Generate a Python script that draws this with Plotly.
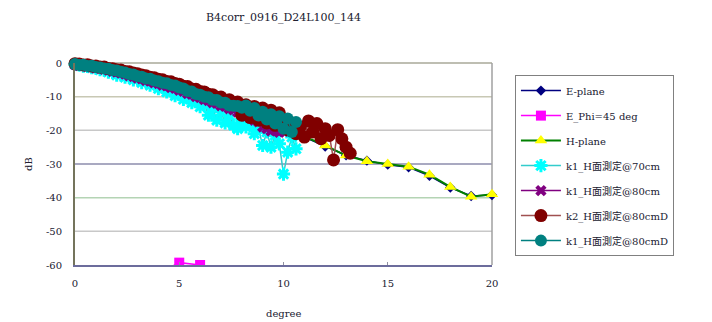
import plotly.graph_objects as go

TITLE = "B4corr_0916_D24L100_144"
X_TITLE = "degree"
Y_TITLE = "dB"

# sample angles (deg) used by the dense measurement series
ANGLES_FINE = [0.0, 0.2, 0.4, 0.6, 0.8, 1.0, 1.2, 1.4, 1.6, 1.8,
               2.0, 2.2, 2.4, 2.6, 2.8, 3.0, 3.2, 3.4, 3.6, 3.8,
               4.0, 4.2, 4.4, 4.6, 4.8, 5.0, 5.2, 5.4, 5.6, 5.8,
               6.0, 6.2, 6.4, 6.6, 6.8, 7.0, 7.2, 7.4, 7.6, 7.8,
               8.0, 8.2, 8.4, 8.6, 8.8, 9.0, 9.2, 9.4, 9.6, 9.8,
               10.0, 10.2, 10.4, 10.6, 10.8, 11.0, 11.2, 11.4, 11.6, 11.8,
               12.0, 12.2, 12.4, 12.6, 12.8, 13.0, 13.2]

ANGLES_INT = [0, 1, 2, 3, 4, 5, 6, 7, 8, 9, 10,
              11, 12, 13, 14, 15, 16, 17, 18, 19, 20]

E_PLANE = [0.0, -0.9, -2.1, -3.6, -5.4, -7.4, -9.6, -11.8, -14.2, -16.8, -19.3,
           -22.0, -24.8, -27.4, -29.0, -30.2, -31.0, -33.5, -37.0, -39.5, -39.2]

H_PLANE = [0.0, -0.8, -2.0, -3.5, -5.2, -7.2, -9.3, -11.5, -13.8, -16.5, -19.0,
           -21.8, -24.5, -27.5, -29.2, -30.0, -30.8, -33.2, -36.8, -39.7, -39.0]

E_PHI45_X = [2, 3, 4, 5, 6, 7, 8, 9]
E_PHI45 = [-75.0, -68.0, -62.5, -59.3, -60.0, -62.5, -68.0, -75.0]

K1_70CM = [-0.4, -0.6, -0.9, -1.0, -1.4, -1.5, -2.0, -2.1, -2.7, -2.8,
           -3.6, -3.5, -4.2, -4.1, -5.0, -4.8, -5.8, -5.5, -6.6, -6.3,
           -7.6, -7.2, -8.6, -8.3, -9.7, -9.2, -10.8, -10.2, -11.8, -11.0,
           -13.0, -12.0, -15.5, -13.2, -17.0, -14.5, -17.8, -15.5, -18.5, -19.5,
           -16.8, -19.0, -18.0, -21.0, -19.5, -24.5, -20.5, -25.0, -21.5, -24.0,
           -33.0, -26.5, -22.0, -25.5]

K1_80CM = [-0.5, -0.8, -0.8, -1.1, -1.2, -1.5, -1.6, -1.9, -2.1, -2.5,
           -2.7, -3.0, -3.3, -3.8, -4.0, -4.5, -4.7, -5.2, -5.4, -5.9,
           -6.1, -6.6, -6.8, -7.3, -7.5, -8.1, -8.4, -9.1, -9.3, -10.0,
           -10.3, -10.9, -11.2, -11.8, -12.0, -12.7, -12.9, -13.6, -13.9, -14.6,
           -15.0, -15.8, -16.2, -17.0, -17.5, -19.0, -19.5, -20.2, -20.0, -20.6,
           -20.3]

K2_80CMD = [-0.2, -0.3, -0.6, -0.5, -0.9, -0.9, -1.2, -1.2, -1.6, -1.7,
            -2.0, -2.1, -2.5, -2.6, -3.0, -3.2, -3.6, -3.8, -4.2, -4.4,
            -4.8, -5.0, -5.5, -5.6, -6.1, -6.3, -6.9, -7.0, -7.7, -7.8,
            -8.5, -8.6, -9.3, -9.4, -10.2, -10.1, -11.2, -10.9, -12.2, -11.6,
            -15.5, -12.4, -16.2, -12.9, -17.0, -13.4, -17.8, -14.0, -18.5, -14.8,
            -17.5, -19.8, -18.0, -21.0, -19.0, -22.0, -17.2, -20.5, -18.0, -22.5,
            -19.5, -21.5, -28.8, -19.8, -22.5, -25.0, -26.8]

K1_80CMD = [-0.3, -0.6, -0.5, -0.9, -0.8, -1.2, -1.3, -1.6, -1.7, -2.1,
            -2.2, -2.6, -2.8, -3.3, -3.4, -3.9, -4.1, -4.6, -4.7, -5.2,
            -5.4, -5.9, -6.0, -6.5, -6.7, -7.3, -7.6, -8.3, -8.5, -9.2,
            -9.4, -10.0, -10.2, -10.9, -11.0, -11.7, -11.8, -12.6, -12.7, -12.8,
            -13.3, -12.6, -14.2, -13.4, -15.6, -14.5, -16.8, -15.2, -18.0, -15.8,
            -19.5, -16.5, -20.5, -17.5]

X_TICKS = [0, 5, 10, 15, 20]
Y_TICKS = [0, -10, -20, -30, -40, -50, -60]
Y_GRID = [-10, -20, -30, -40, -50]
GRID_COLORS = ["#c8c8b4", "#c8c8c8", "#8c8cac", "#b4d4b4", "#c8c8c8"]

SERIF = "DejaVu Serif, Noto Sans CJK JP, serif"
TXT = "#202030"

fig = go.Figure()

fig.add_trace(go.Scatter(
    x=ANGLES_INT, y=E_PLANE, name="E-plane", mode="lines+markers",
    line=dict(color="#000080", width=1.5),
    marker=dict(symbol="diamond", size=8, color="#000080"),
    cliponaxis=False))

fig.add_trace(go.Scatter(
    x=E_PHI45_X, y=E_PHI45, name="E_Phi=45 deg", mode="lines+markers",
    line=dict(color="#ff00ff", width=1.5),
    marker=dict(symbol="square", size=10, color="#ff00ff")))

fig.add_trace(go.Scatter(
    x=ANGLES_INT, y=H_PLANE, name="H-plane", mode="lines+markers",
    line=dict(color="#008000", width=2),
    marker=dict(symbol="triangle-up", size=11, color="#ffff00"),
    cliponaxis=False))

fig.add_trace(go.Scatter(
    x=ANGLES_FINE[:len(K1_70CM)], y=K1_70CM, name="k1_H面測定@70cm",
    mode="lines+markers",
    line=dict(color="#33cccc", width=1.5),
    marker=dict(symbol="asterisk-open", size=11, color="#00ffff",
                line=dict(color="#00ffff", width=3)),
    cliponaxis=False))

fig.add_trace(go.Scatter(
    x=ANGLES_FINE[:len(K1_80CM)], y=K1_80CM, name="k1_H面測定@80cm",
    mode="lines+markers",
    line=dict(color="#800080", width=1.5),
    marker=dict(symbol="x", size=10, color="#800080"),
    cliponaxis=False))

fig.add_trace(go.Scatter(
    x=ANGLES_FINE[:len(K2_80CMD)], y=K2_80CMD, name="k2_H面測定@80cmD",
    mode="lines+markers",
    line=dict(color="#a05050", width=1.5),
    marker=dict(symbol="circle", size=13, color="#800000"),
    cliponaxis=False))

fig.add_trace(go.Scatter(
    x=ANGLES_FINE[:len(K1_80CMD)], y=K1_80CMD, name="k1_H面測定@80cmD",
    mode="lines+markers",
    line=dict(color="#008080", width=1.5),
    marker=dict(symbol="circle", size=12, color="#008080"),
    cliponaxis=False))

shapes = []
for yv, col in zip(Y_GRID, GRID_COLORS):
    shapes.append(dict(type="line", xref="x domain", yref="y", x0=0, x1=1,
                       y0=yv, y1=yv, line=dict(color=col, width=1.5),
                       layer="below"))
shapes.append(dict(type="line", xref="x domain", yref="y domain", x0=0, x1=1,
                   y0=1, y1=1, line=dict(color="#a8a898", width=1.5), layer="below"))
shapes.append(dict(type="line", xref="x domain", yref="y domain", x0=1, x1=1,
                   y0=0, y1=1, line=dict(color="#a0a0a0", width=1.5), layer="below"))

annotations = [
    dict(text=TITLE, xref="paper", yref="paper", x=0.5, y=1.0, yshift=46,
         xanchor="center", yanchor="middle", showarrow=False,
         font=dict(family=SERIF, size=11, color=TXT)),
    dict(text=X_TITLE, xref="paper", yref="paper", x=0.5, y=0, yshift=-48,
         xanchor="center", yanchor="middle", showarrow=False,
         font=dict(family=SERIF, size=10, color=TXT)),
    dict(text=Y_TITLE, xref="paper", yref="paper", x=0, y=0.5, xshift=-47,
         xanchor="center", yanchor="middle", showarrow=False, textangle=-90,
         font=dict(family=SERIF, size=10, color=TXT)),
]

# the page body adds an 8 px offset, so margins are reduced by 8 px
fig.update_layout(
    width=712, height=322,
    margin=dict(l=67, r=228, t=55, b=65, autoexpand=False),
    paper_bgcolor="white", plot_bgcolor="white",
    font=dict(family=SERIF, size=10, color=TXT),
    showlegend=True,
    legend=dict(x=1.055, y=0.94, xanchor="left", yanchor="top",
                bgcolor="white", bordercolor="#808080", borderwidth=1,
                font=dict(family=SERIF, size=10, color=TXT),
                tracegroupgap=6, itemwidth=40,
                traceorder="grouped"),
    shapes=shapes,
    annotations=annotations,
)

for i, tr in enumerate(fig.data):
    tr.legendgroup = "g%d" % i

fig.update_xaxes(
    range=[0, 20], tickvals=X_TICKS, ticktext=[str(v) for v in X_TICKS],
    showgrid=False, zeroline=False, automargin=False,
    showline=True, linecolor="#6c6c9c", linewidth=2,
    ticks="inside", ticklen=3, tickcolor="#9090a0",
    ticklabelstandoff=8,
    tickfont=dict(family=SERIF, size=10, color=TXT),
)
fig.update_yaxes(
    range=[-60, 0], tickvals=Y_TICKS, ticktext=[str(v) for v in Y_TICKS],
    showgrid=False, zeroline=False, automargin=False,
    showline=True, linecolor="#74745c", linewidth=2,
    ticks="", ticklabelstandoff=9,
    tickfont=dict(family=SERIF, size=10, color=TXT),
)

fig.write_html("out.html")
